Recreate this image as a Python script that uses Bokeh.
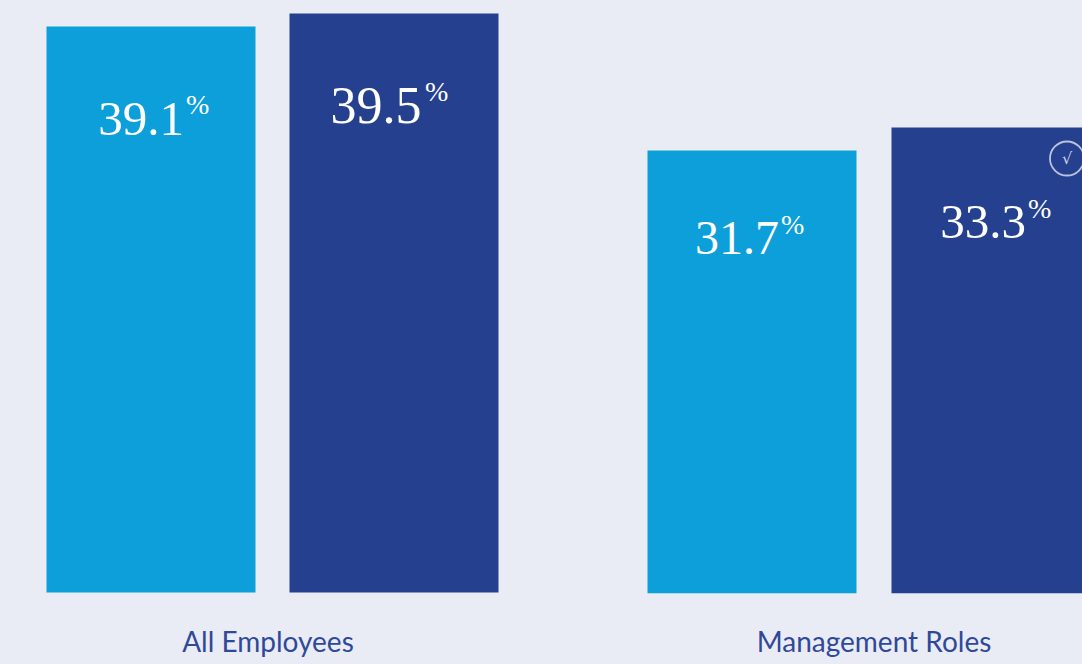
from bokeh.embed import file_html
from bokeh.models import ColumnDataSource, FixedTicker, Range1d
from bokeh.plotting import figure
from bokeh.resources import INLINE
from bokeh.core.properties import value

categories = ["All Employees", "Management Roles"]
labels_a = ["39.1", "31.7"]
labels_b = ["39.5", "33.3"]
heights_a = [566, 443]   # drawn bar heights (bars are not to scale with labels)
heights_b = [579, 466]
baseline = [0, -1]
colors = ["#0c9fda", "#25408f"]
BG = "#e9ecf5"
TXT = "#30489a"

W, H = 1082, 664
unit = 601.5
half = [121.5 / unit, 122 / unit]
bar_w = 209 / unit
x0 = 272 / unit

p = figure(width=W, height=H, output_backend="svg", toolbar_location=None,
           x_range=Range1d(-x0, (W - 272) / unit), y_range=Range1d(-1, 592),
           min_border_left=0, min_border_right=0, min_border_top=0, min_border_bottom=71,
           background_fill_color=BG, border_fill_color=BG, outline_line_color=None)
p.grid.visible = False
p.yaxis.visible = False
ticks = [-4.5 / unit, 1]
ax = p.xaxis[0]
ax.ticker = FixedTicker(ticks=ticks)
ax.major_label_overrides = {t: c for t, c in zip(ticks, categories)}
ax.axis_line_color = None
ax.major_tick_line_color = None
ax.minor_tick_line_color = None
ax.major_tick_out = 0
ax.major_tick_in = 0
ax.major_label_standoff = 30
ax.major_label_text_font = "Lato"
ax.major_label_text_font_size = "28px"
ax.major_label_text_color = TXT

xs, tops, bots, fills, texts = [], [], [], [], []
for i in range(2):
    xs += [i - half[i], i + half[i]]
    tops += [heights_a[i] + baseline[i], heights_b[i] + baseline[i]]
    bots += [baseline[i], baseline[i]]
    fills += colors
    texts += [labels_a[i], labels_b[i]]

p.vbar(x=xs, bottom=bots, top=tops, width=bar_w, fill_color=fills, line_color=None)

src = ColumnDataSource(dict(x=xs, y=tops, text=texts, pct=["%"] * 4,
                            dx=[-10, -18, -15, -13], dy=[92, 92, 87, 94],
                            px=[35, 31, 29, 32], py=[78, 78, 74, 81],
                            fs=["49px", "52px", "48px", "49px"]))
p.text("x", "y", text="text", source=src, x_offset="dx", y_offset="dy", text_align="center",
       text_baseline="alphabetic", text_color="white", text_font=value("Liberation Serif"), text_font_size="fs")
p.text("x", "y", text="pct", source=src, x_offset="px", y_offset="py", text_align="left",
       text_baseline="alphabetic", text_color="white", text_font=value("Liberation Serif"), text_font_size="28px")

check_x = xs[3] + 71 / unit
check_y = tops[3] - 31
p.scatter([check_x], [check_y], marker="circle", size=34, fill_color=None, line_color="#b9c3dc", line_width=1.8)
p.text([check_x], [check_y], text=["√"], text_align="center", text_baseline="middle", text_color="#cfd6e8",
       text_font=value("DejaVu Sans"), text_font_size="16px")

html = file_html(p, INLINE)
html = html.replace("</head>", "<style>html,body{margin:0;padding:0;overflow:hidden;background:%s}</style></head>" % BG, 1)
open("out.html", "w").write(html)
